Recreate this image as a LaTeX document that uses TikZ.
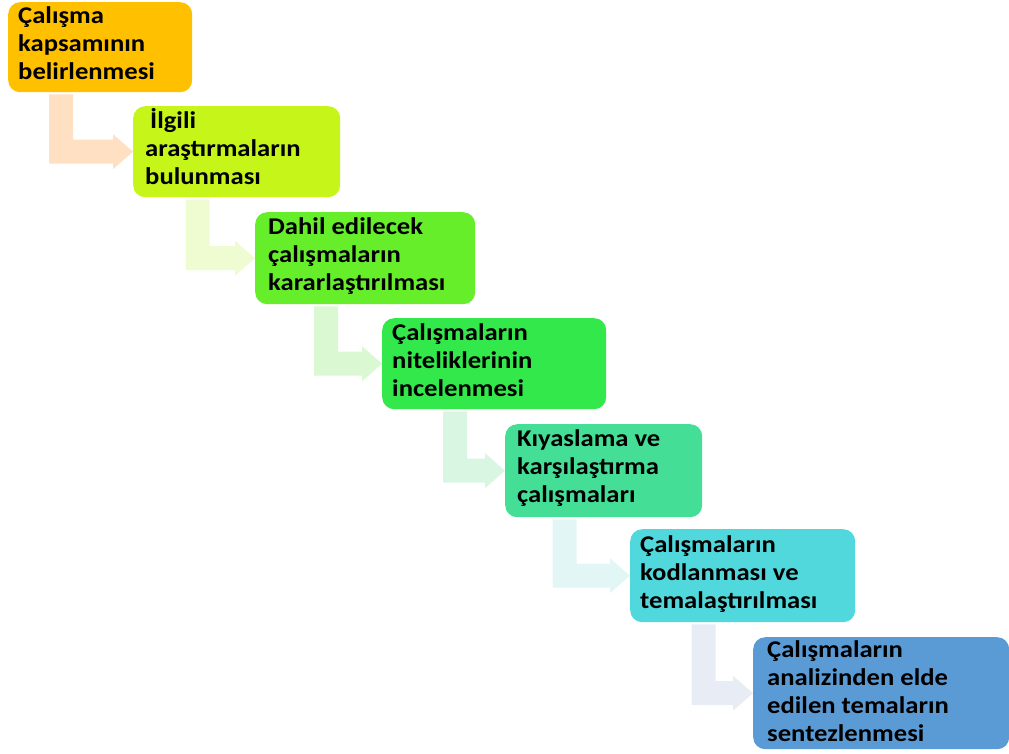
\documentclass[tikz,border=0pt]{standalone}
\usepackage{fontspec}
\setmainfont{Carlito}
\newfontfamily\stepfont{Carlito}[FakeStretch=1.11]
\usetikzlibrary{calc}

\definecolor{c1}{HTML}{FFC000}
\definecolor{c2}{HTML}{C6F51A}
\definecolor{c3}{HTML}{66EE2A}
\definecolor{c4}{HTML}{33E84A}
\definecolor{c5}{HTML}{44DE96}
\definecolor{c6}{HTML}{50D8DC}
\definecolor{c7}{HTML}{5B9BD5}
\definecolor{a1}{HTML}{FFE0C2}
\definecolor{a2}{HTML}{EFFCD2}
\definecolor{a3}{HTML}{DAF8D2}
\definecolor{a4}{HTML}{D8F6E2}
\definecolor{a5}{HTML}{E2F6F6}
\definecolor{a6}{HTML}{E8ECF4}

\tikzset{
  stepbox/.style={rounded corners=12pt, draw=none, inner sep=0pt, anchor=north west},
  steptext/.style={anchor=base west, inner sep=0pt, text=black,
    font=\stepfont\bfseries\fontsize{24}{28}\selectfont},
}

% bent connector: from node #1 (bottom) to node #2 (left side), colour #3
\newcommand{\bentconn}[3]{%
  \fill[#3] let \p1=([xshift=-39pt]#1.south), \p2=(#2.west) in
    (\x1-12pt,\y1-2pt) -- (\x1-12pt,\y2-12pt) -- (\x2-20pt,\y2-12pt)
    -- (\x2-20pt,\y2-17.5pt) -- (\x2,\y2) -- (\x2-20pt,\y2+17.5pt)
    -- (\x2-20pt,\y2+12pt) -- (\x1+12pt,\y2+12pt) -- (\x1+12pt,\y1-2pt) -- cycle;}

\begin{document}
\begin{tikzpicture}[x=1pt,y=-1pt]
\useasboundingbox (0,0) rectangle (1009,753);

\node[stepbox, fill=c1, minimum width=184pt, minimum height=90pt]  (b1) at (8,2) {};
\node[stepbox, fill=c2, minimum width=207pt, minimum height=91pt]  (b2) at (133,106) {};
\node[stepbox, fill=c3, minimum width=220pt, minimum height=92pt]  (b3) at (255,212) {};
\node[stepbox, fill=c4, minimum width=224pt, minimum height=91pt]  (b4) at (382,318) {};
\node[stepbox, fill=c5, minimum width=197pt, minimum height=93pt]  (b5) at (505,424) {};
\node[stepbox, fill=c6, minimum width=225pt, minimum height=93pt]  (b6) at (630,529) {};
\node[stepbox, fill=c7, minimum width=256pt, minimum height=112pt] (b7) at (753,637) {};

\node[steptext] (t1) at (18,23.5)  {\parbox[t]{240pt}{Çalışma\\kapsamının\\belirlenmesi}};
\node[steptext] (t2) at (145,128.5) {\parbox[t]{240pt}{\hspace*{5pt}İlgili\\araştırmaların\\bulunması}};
\node[steptext] (t3) at (268,234)  {\parbox[t]{240pt}{Dahil edilecek\\çalışmaların\\kararlaştırılması}};
\node[steptext] (t4) at (392,340)  {\parbox[t]{240pt}{Çalışmaların\\niteliklerinin\\incelenmesi}};
\node[steptext] (t5) at (517,446)  {\parbox[t]{240pt}{Kıyaslama ve\\karşılaştırma\\çalışmaları}};
\node[steptext] (t6) at (640,552)  {\parbox[t]{240pt}{Çalışmaların\\kodlanması ve\\temalaştırılması}};
\node[steptext] (t7) at (767,657)  {\parbox[t]{240pt}{Çalışmaların\\analizinden elde\\edilen temaların\\sentezlenmesi}};

\bentconn{b1}{b2}{a1}
\bentconn{b2}{b3}{a2}
\bentconn{b3}{b4}{a3}
\bentconn{b4}{b5}{a4}
\bentconn{b5}{b6}{a5}
\bentconn{b6}{b7}{a6}
\end{tikzpicture}
\end{document}
